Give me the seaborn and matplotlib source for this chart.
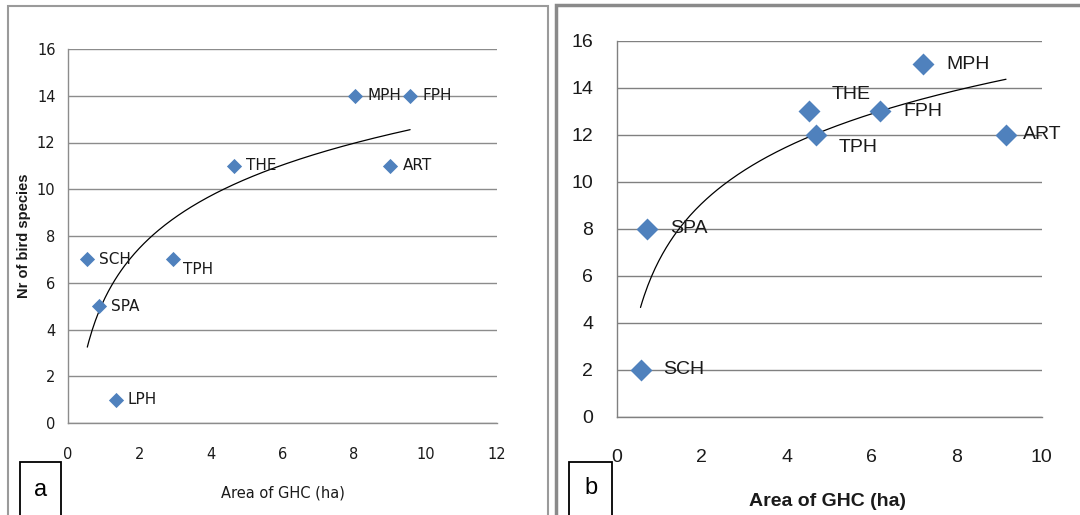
import numpy as np
import pandas as pd
import matplotlib
matplotlib.use("Agg")
import matplotlib.pyplot as plt
import seaborn as sns
from matplotlib.patches import Rectangle

# ---- data (panel a) ----
sites_a = ["SCH", "SPA", "LPH", "TPH", "THE", "MPH", "FPH", "ART"]
area_a = [0.54, 0.86, 1.34, 2.93, 4.64, 8.03, 9.57, 9.02]
species_a = [7, 5, 1, 7, 11, 14, 14, 11]

# ---- data (panel b) ----
sites_b = ["SCH", "SPA", "THE", "TPH", "FPH", "MPH", "ART"]
area_b = [0.56, 0.72, 4.53, 4.68, 6.20, 7.21, 9.16]
species_b = [2, 8, 13, 12, 13, 15, 12]

xticks_a = [0, 2, 4, 6, 8, 10, 12]
xticks_b = [0, 2, 4, 6, 8, 10]
yticks = [0, 2, 4, 6, 8, 10, 12, 14, 16]

sns.set_theme(style="white")
NARROW = ["Liberation Sans Narrow", "DejaVu Sans"]
WIDE = ["Liberation Sans", "DejaVu Sans"]
plt.rcParams["font.family"] = WIDE

W, H = 1080, 515
fig = plt.figure(figsize=(W / 100, H / 100), dpi=100)

def fx(px):
    return px / W

def fy(py):
    return 1 - py / H

BLUE = "#4F81BD"

def log_fit(x, y):
    b, a = np.polyfit(np.log(x), y, 1)
    xs = np.linspace(min(x), max(x), 200)
    return xs, a + b * np.log(xs)

def panel(ax, sites, xs, ys, xticks, xmax, family, tick_fs, lab_fs, msize,
          offsets, xpad, ypad, grid_c):
    df = pd.DataFrame({"x": xs, "y": ys, "site": sites})
    fx_, fy_ = log_fit(np.array(xs), np.array(ys))
    sns.lineplot(x=fx_, y=fy_, ax=ax, color="black", lw=0.9, zorder=2)
    sns.scatterplot(data=df, x="x", y="y", ax=ax, marker="D", s=msize,
                    color=BLUE, edgecolor=BLUE, linewidth=0, zorder=3)
    for s, x, y in zip(sites, xs, ys):
        dx, dy = offsets.get(s, offsets["default"])
        ax.annotate(s, (x, y), xytext=(dx, dy), textcoords="offset pixels",
                    ha="left", va="center", fontsize=lab_fs, family=family,
                    color="#1a1a1a", zorder=4)
    ax.set_xlim(0, xmax)
    ax.set_ylim(0, 16)
    ax.set_xticks(xticks)
    ax.set_yticks(yticks)
    ax.set_xticklabels([str(t) for t in xticks], family=family, fontsize=tick_fs)
    ax.set_yticklabels([str(t) for t in yticks], family=family, fontsize=tick_fs)
    ax.tick_params(axis="both", length=0, colors="#1a1a1a")
    ax.tick_params(axis="x", pad=xpad)
    ax.tick_params(axis="y", pad=ypad)
    ax.grid(axis="y", color=grid_c, lw=1.0)
    ax.grid(axis="x", visible=False)
    for side in ["top", "right"]:
        ax.spines[side].set_visible(False)
    for side in ["left", "bottom"]:
        ax.spines[side].set_color(grid_c)
        ax.spines[side].set_linewidth(1.0)
    ax.set_facecolor("white")
    ax.set_xlabel("")
    ax.set_ylabel("")

# ---- panel a ----
ax1 = fig.add_axes([fx(68), fy(423), fx(429), 374 / H])
panel(ax1, sites_a, area_a, species_a, xticks_a, 12, NARROW, 10.5, 11, 60,
      {"default": (12, 0), "TPH": (10, -10)}, 17, 9, "#8c8c8c")
ax1.set_xlabel("Area of GHC (ha)", family=NARROW, fontsize=10.5, color="#1a1a1a")
ax1.xaxis.set_label_coords(0.5, -0.166)
ax1.set_ylabel("Nr of bird species", family=WIDE, fontsize=10.5, fontweight="bold",
               color="#1a1a1a")
ax1.yaxis.set_label_coords(-0.086, 0.5)

# ---- panel b ----
ax2 = fig.add_axes([fx(616.7), fy(416.7), fx(425), 376 / H])
panel(ax2, sites_b, area_b, species_b, xticks_b, 10, WIDE, 14, 14, 125,
      {"default": (23, 0), "THE": (22, 17), "TPH": (23, -13), "ART": (17, 0)},
      23, 17, "#808080")
ax2.set_xlabel("Area of GHC (ha)", family=WIDE, fontsize=14, fontweight="bold",
               color="#1a1a1a")
ax2.xaxis.set_label_coords(0.497, -0.203)

# ---- panel frames ----
fig.add_artist(Rectangle((fx(7.5), fy(540)), fx(540), 534 / H,
                         transform=fig.transFigure, fill=False,
                         edgecolor="#9a9a9a", lw=1.5))
fig.add_artist(Rectangle((fx(556), fy(540)), fx(600), 535 / H,
                         transform=fig.transFigure, fill=False,
                         edgecolor="#8a8a8a", lw=2.5))

# ---- letter boxes ----
for (x0, x1, letter, cy) in [(20, 61, "a", 490), (569, 612, "b", 488)]:
    fig.add_artist(Rectangle((fx(x0), fy(540)), fx(x1 - x0), (540 - 462) / H,
                             transform=fig.transFigure, fill=False,
                             edgecolor="black", lw=1.3))
    fig.text(fx((x0 + x1) / 2), fy(cy), letter, ha="center", va="center",
             fontsize=17, family=WIDE, color="black")

fig.savefig("out.png", dpi=100, facecolor="white")
